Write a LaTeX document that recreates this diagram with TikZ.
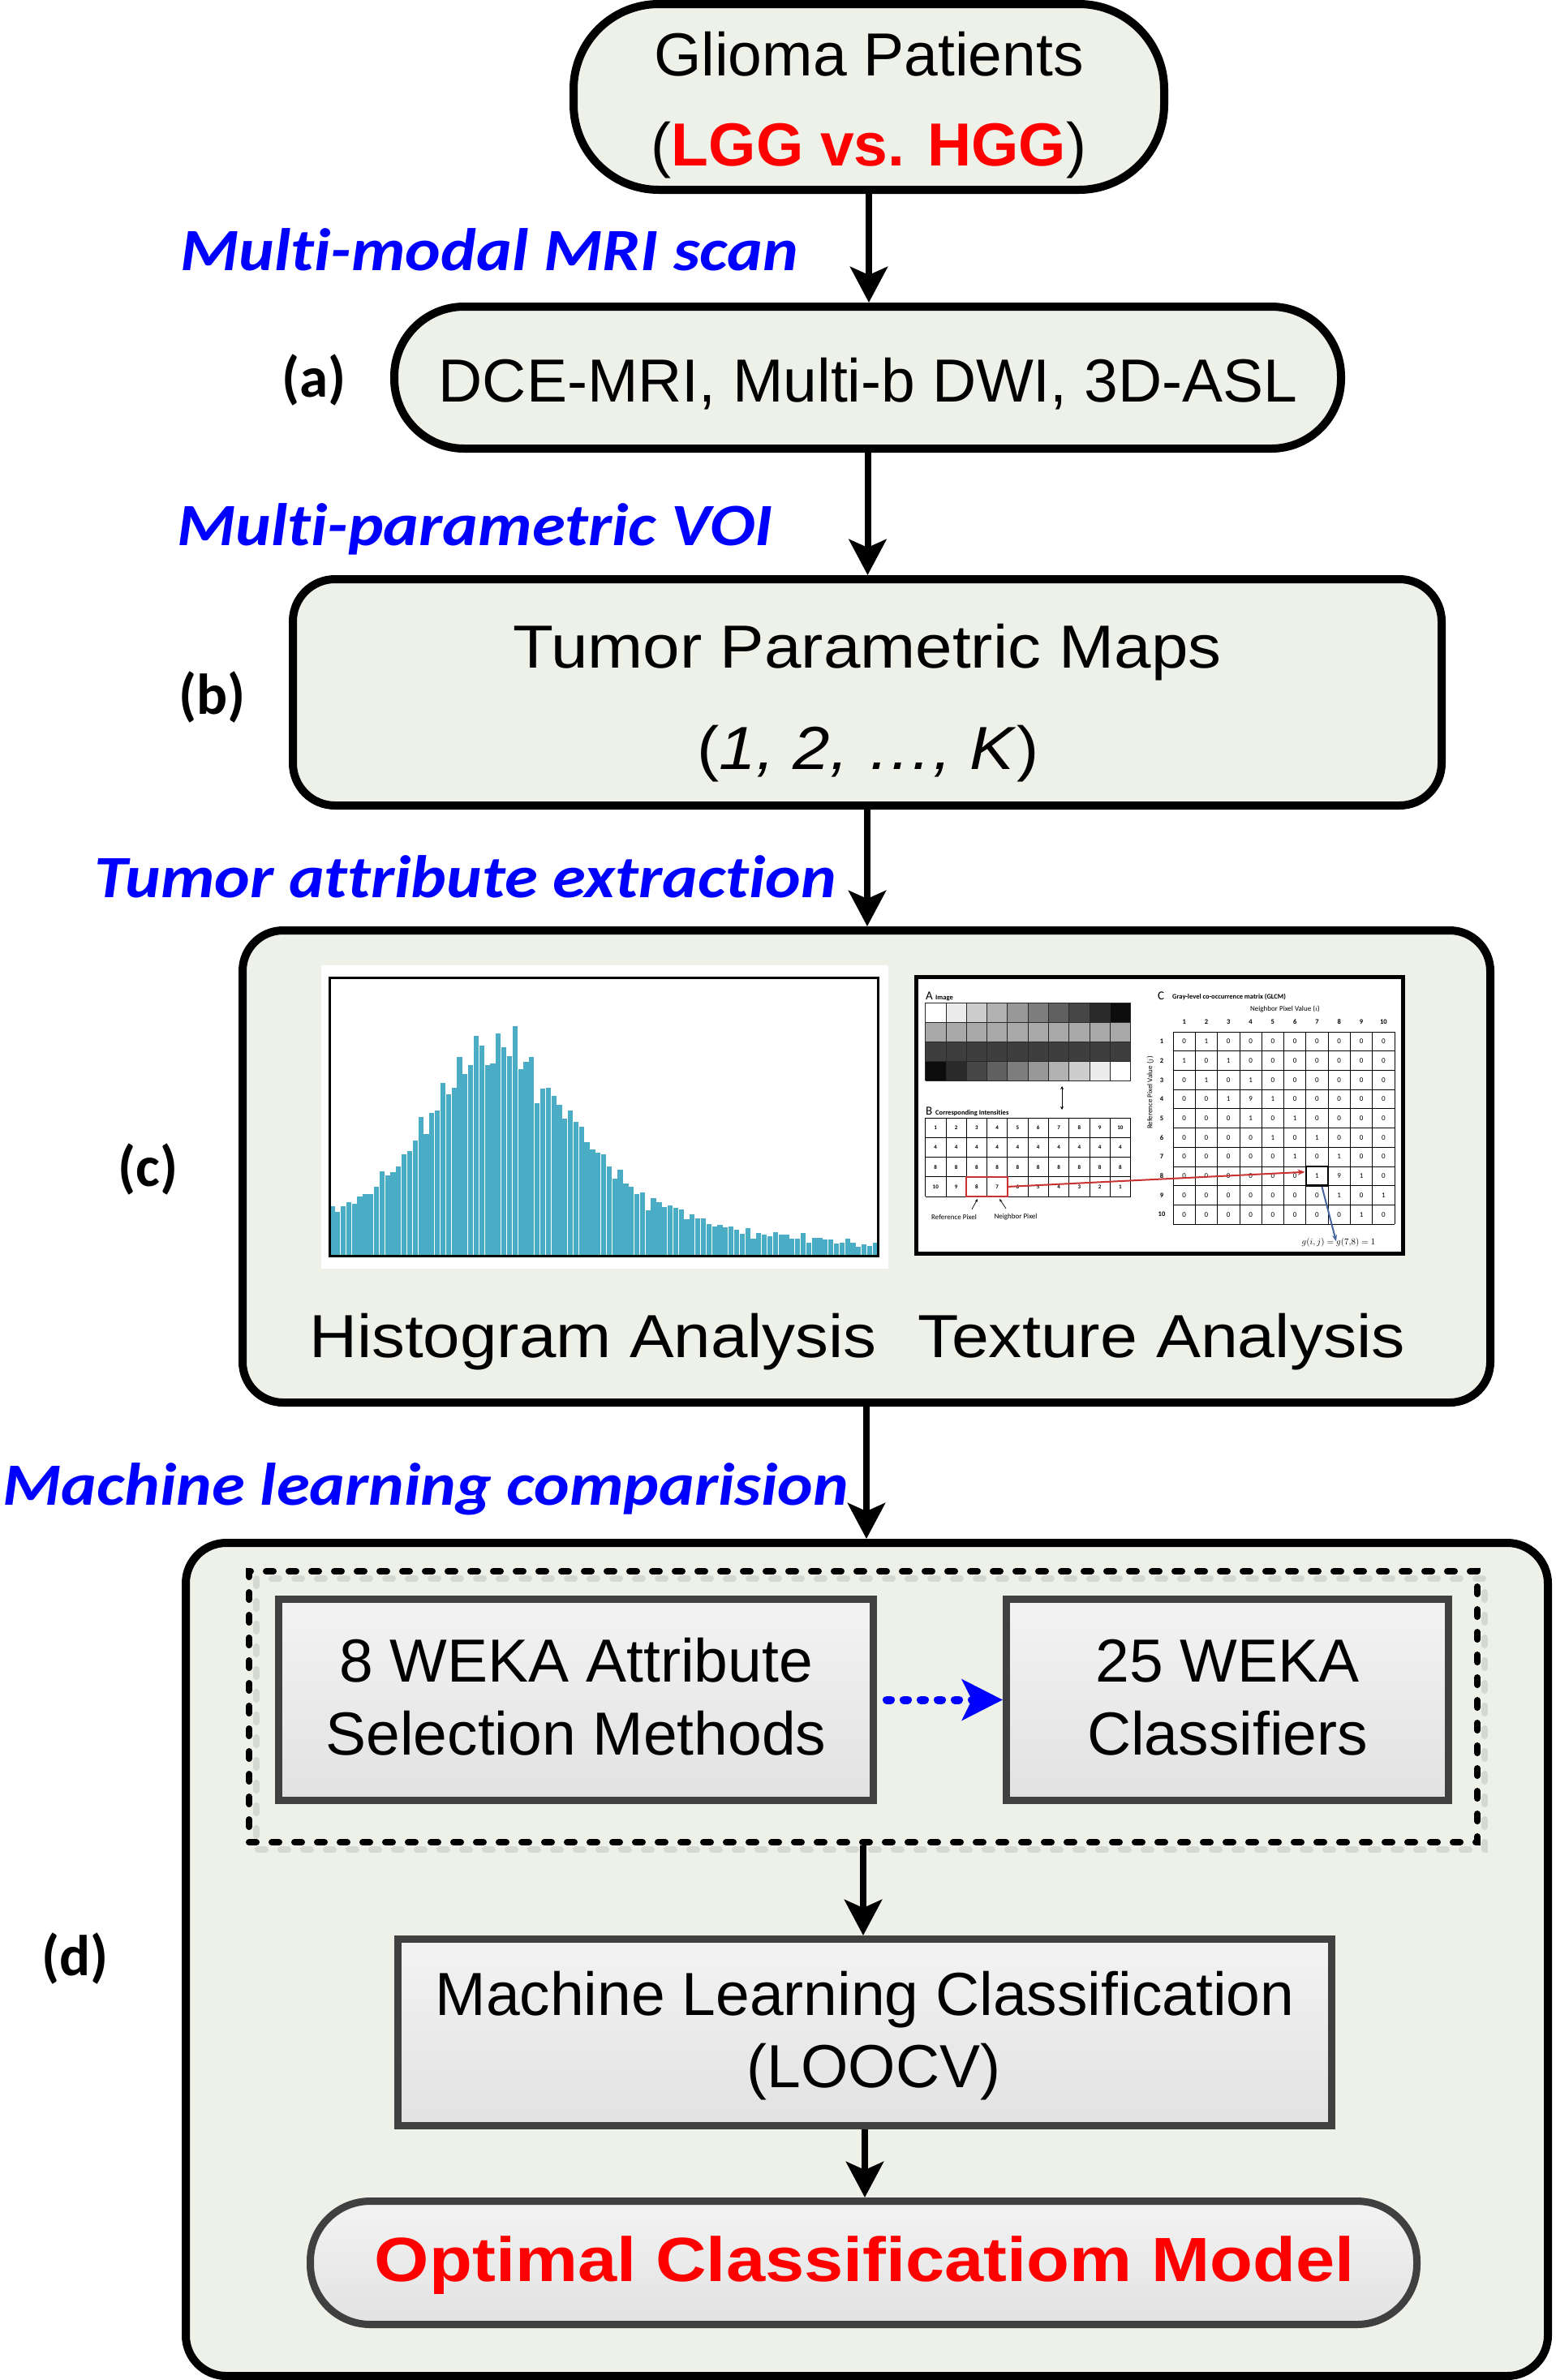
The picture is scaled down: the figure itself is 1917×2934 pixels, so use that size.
\documentclass[tikz,border=0pt]{standalone}
\usepackage{fontspec}
\usepackage{graphicx}
\setmainfont{Liberation Sans}[Ligatures=CommonOff]
\newfontfamily\labfont{Carlito}[Ligatures=CommonOff]
\usetikzlibrary{arrows.meta}

\definecolor{boxbg}{RGB}{238,241,231}
\definecolor{dgray}{RGB}{64,64,64}
\definecolor{gtop}{RGB}{243,243,243}
\definecolor{gbot}{RGB}{226,226,226}
\definecolor{histblue}{RGB}{75,172,198}
\definecolor{shadowgray}{RGB}{214,217,209}
\definecolor{arrred}{RGB}{200,50,50}
\definecolor{arrblue}{RGB}{70,100,160}
\definecolor{cellline}{RGB}{40,40,40}

\tikzset{
  mainbox/.style={draw=black, line width=10pt, fill=boxbg, inner sep=0pt},
  graybox/.style={draw=dgray, line width=9pt, top color=gtop, bottom color=gbot, inner sep=0pt},
  flow/.style={line width=8pt, -{Stealth[length=44pt,width=46pt,inset=10pt]}},
  maintxt/.style={font=\fontsize{75}{90}\selectfont, inner sep=0pt, anchor=base},
  lab/.style={font=\labfont\bfseries\itshape\fontsize{74}{80}\selectfont, text=blue, inner sep=0pt, anchor=base west},
  tagtxt/.style={font=\labfont\bfseries\fontsize{71}{72}\selectfont, inner sep=0pt, anchor=base west},
  tiny/.style={font=\labfont\fontsize{9}{10}\selectfont, inner sep=0pt},
  tinyb/.style={font=\labfont\bfseries\fontsize{8.5}{10}\selectfont, inner sep=0pt},
  thinline/.style={line width=0.8pt},
}

\begin{document}
\begin{tikzpicture}[x=1pt,y=-1pt]
\useasboundingbox[fill=white] (0,0) rectangle (1917,2934);

% ---------- main boxes ----------
\node[mainbox, rounded corners=105pt, minimum width=728pt, minimum height=229pt] (b1) at (1071,119.5) {};
\node[mainbox, rounded corners=86pt, minimum width=1167pt, minimum height=175pt] (b2) at (1069.5,465.5) {};
\node[mainbox, rounded corners=52pt, minimum width=1416pt, minimum height=279pt] (b3) at (1069,853.5) {};
\node[mainbox, rounded corners=50pt, minimum width=1538pt, minimum height=582pt] (b4) at (1068,1438) {};
\node[mainbox, rounded corners=50pt, minimum width=1679pt, minimum height=1027pt] (b5) at (1068.5,2415.5) {};

% ---------- histogram picture ----------
\node[fill=white, inner sep=0pt, minimum width=699pt, minimum height=374pt] (histimg) at (745.5,1377) {};
\foreach \v [count=\i] in {920,942,922,907,912,884,875,877,850,793,
 808,795,775,730,718,678,590,653,577,568,
 465,507,482,370,432,400,292,328,400,393,
 282,333,367,255,413,387,368,540,487,483,
 513,547,597,568,610,627,685,710,722,730,
 775,818,787,838,850,875,870,935,890,905,
 925,917,928,932,970,950,965,967,987,997,
 990,1000,995,1008,1022,1003,1040,1020,1025,1033,
 1017,1027,1025,1040,1040,1020,1055,1038,1038,1045,
 1045,1058,1057,1042,1055,1072,1063,1067,1055}
{
  \fill[histblue] ({406+(\i-1)*6.83+0.3},1548) rectangle ({406+\i*6.83-0.3},{1180+\v/3});
}
\node[draw=black, line width=3pt, inner sep=0pt, minimum width=676pt, minimum height=343pt] (histframe) at (744,1376.5) {};

% ---------- GLCM picture ----------
\node[draw=black, line width=5pt, fill=white, inner sep=0pt, minimum width=600pt, minimum height=341pt] (glcm) at (1429,1374.5) {};
% A image
\node[font=\labfont\fontsize{15}{16}\selectfont, inner sep=0pt, anchor=base west] (lA) at (1141,1232) {A};
\node[font=\labfont\bfseries\fontsize{8.5}{10}\selectfont, inner sep=0pt, anchor=base west] (lAi) at (1153,1232) {Image};
\foreach \g [count=\c] in {255,236,205,178,152,125,96,70,42,12}{
  \fill[fill={rgb,255:red,\g;green,\g;blue,\g}] ({1140.6+(\c-1)*25.3},1236) rectangle ++(25.3,24);
  \fill[fill={rgb,255:red,168;green,168;blue,168}] ({1140.6+(\c-1)*25.3},1260) rectangle ++(25.3,24);
  \fill[fill={rgb,255:red,62;green,62;blue,62}] ({1140.6+(\c-1)*25.3},1284) rectangle ++(25.3,24);
}
\foreach \g [count=\c] in {12,42,70,96,125,152,178,205,236,255}{
  \fill[fill={rgb,255:red,\g;green,\g;blue,\g}] ({1140.6+(\c-1)*25.3},1308) rectangle ++(25.3,24);
}
\foreach \k in {0,...,10}{\draw[cellline, thinline] ({1140.6+\k*25.3},1236) -- ++(0,96);}
\foreach \k in {0,...,4}{\draw[cellline, thinline] (1140.6,{1236+\k*24}) -- ++(253,0);}
\coordinate (da1) at (1309,1339);
\coordinate (da2) at (1309,1368);
\draw[line width=1pt, {Stealth[length=4pt,width=4pt]}-{Stealth[length=4pt,width=4pt]}] (da1) -- (da2);
% B intensities
\node[font=\labfont\fontsize{15}{16}\selectfont, inner sep=0pt, anchor=base west] (lB) at (1141,1374) {B};
\node[font=\labfont\bfseries\fontsize{8.5}{10}\selectfont, inner sep=0pt, anchor=base west] (lBi) at (1153,1374) {Corresponding Intensities};
\foreach \k in {0,...,10}{\draw[black, thinline] ({1140.6+\k*25.3},1378) -- ++(0,97);}
\foreach \k in {0,...,4}{\draw[black, thinline] (1140.6,{1378+\k*24.25}) -- ++(253,0);}
\foreach \rowv [count=\r] in {{1,2,3,4,5,6,7,8,9,10},{4,4,4,4,4,4,4,4,4,4},{8,8,8,8,8,8,8,8,8,8},{10,9,8,7,6,5,4,3,2,1}}{
  \foreach \val [count=\c] in \rowv {
    \node[tinyb, font=\labfont\bfseries\fontsize{7}{8}\selectfont] (bv-\r-\c) at ({1140.6+(\c-0.5)*25.3},{1378+(\r-0.5)*24.25}) {\val};
  }
}
\node[draw=arrred, line width=2pt, inner sep=0pt, minimum width=50.6pt, minimum height=24.25pt] (rb) at (1216.4,1462.9) {};
\node[tiny] (refpx) at (1176,1500) {Reference Pixel};
\node[tiny] (nbpx) at (1252,1500) {Neighbor Pixel};
\draw[line width=0.7pt, -{Stealth[length=4pt,width=3pt]}] (refpx.north) ++(22,-6) -- (1205,1478);
\draw[line width=0.7pt, -{Stealth[length=4pt,width=3pt]}] (nbpx.north) ++(-12,-6) -- (1232,1478);
% C GLCM
\node[font=\labfont\fontsize{15}{16}\selectfont, inner sep=0pt, anchor=base west] (lC) at (1427,1232) {C};
\node[font=\labfont\bfseries\fontsize{8.5}{10}\selectfont, inner sep=0pt, anchor=base west] (lCi) at (1445,1231) {Gray-level co-occurrence matrix (GLCM)};
\node[tiny] (npv) at (1584,1244) {Neighbor Pixel Value ($i$)};
\node[tiny, rotate=90] (rpv) at (1418,1347) {Reference Pixel Value ($j$)};
\foreach \c in {1,...,10}{
  \node[tinyb] (ch-\c) at ({1446+(\c-0.5)*27.3},1260) {\c};
  \node[tinyb] (rh-\c) at (1432,{1272+(\c-0.5)*23.7}) {\c};
}
\foreach \k in {0,...,10}{\draw[black, thinline] ({1446+\k*27.3},1272) -- ++(0,237);}
\foreach \k in {0,...,10}{\draw[black, thinline] (1446,{1272+\k*23.7}) -- ++(273,0);}
\foreach \rowv [count=\r] in {
 {0,1,0,0,0,0,0,0,0,0},{1,0,1,0,0,0,0,0,0,0},{0,1,0,1,0,0,0,0,0,0},{0,0,1,9,1,0,0,0,0,0},
 {0,0,0,1,0,1,0,0,0,0},{0,0,0,0,1,0,1,0,0,0},{0,0,0,0,0,1,0,1,0,0},{0,0,0,0,0,0,1,9,1,0},
 {0,0,0,0,0,0,0,1,0,1},{0,0,0,0,0,0,0,0,1,0}}{
  \foreach \val [count=\c] in \rowv {
    \node[tiny] (mv-\r-\c) at ({1446+(\c-0.5)*27.3},{1272+(\r-0.5)*23.7}) {\val};
  }
}
\node[draw=black, line width=2.5pt, inner sep=0pt, minimum width=27.3pt, minimum height=23.7pt] (hl) at (1623.45,1449.75) {};
\draw[arrred, line width=2pt, -{Stealth[length=9pt,width=7pt]}] (rb.east) -- ([yshift=5pt]hl.west);
\node[font=\fontsize{11}{12}\selectfont, inner sep=0pt] (geq) at (1650,1532) {$g(i,j)=g(7{,}8)=1$};
\draw[arrblue, line width=2pt, -{Stealth[length=8pt,width=6pt]}] ([xshift=6pt]hl.south) -- ([xshift=-3pt,yshift=-4pt]geq.north);

% ---------- machine learning part ----------
\draw[shadowgray, line width=8pt, line cap=round, dash pattern=on 9pt off 19pt] (316,1946) rectangle (1830,2280);
\node[draw=black, line width=8pt, line cap=round, dash pattern=on 9pt off 19pt, inner sep=0pt, minimum width=1514pt, minimum height=334pt] (grp) at (1064,2104) {};
\node[graybox, minimum width=733pt, minimum height=248pt] (w1) at (710,2095.5) {};
\node[graybox, minimum width=545pt, minimum height=248pt] (w2) at (1513,2095.5) {};
\node[graybox, minimum width=1151pt, minimum height=230pt] (mlc) at (1066,2505.5) {};
\node[graybox, rounded corners=74pt, minimum width=1364pt, minimum height=152pt] (opt) at (1064.5,2789.5) {};

% ---------- connectors ----------
\draw[flow] (b1.south) -- (b1.south |- b2.north);
\draw[flow] (b2.south) -- (b2.south |- b3.north);
\draw[flow] (b3.south) -- (b3.south |- b4.north);
\draw[flow] (b4.south) -- (b4.south |- b5.north);
\draw[flow] (grp.south) -- (grp.south |- mlc.north);
\draw[flow] (mlc.south) -- (mlc.south |- opt.north);
\draw[blue, line width=10pt, line cap=round, dash pattern=on 5pt off 16pt, shorten <=12pt,
      -{Stealth[length=50pt,width=50pt,inset=12pt]}] (w1.east) -- (w2.west);

% ---------- texts ----------
\node[maintxt] (t1a) at (1071,93) {Glioma Patients};
\node[maintxt] (t1b) at (1071,204) {(\textcolor{red}{\bfseries LGG vs. HGG})};
\node[maintxt] (t2) at (1070,495) {DCE-MRI, Multi-b DWI, 3D-ASL};
\node[maintxt] (t3a) at (1069,823) {\scalebox{1.09}[1]{Tumor Parametric Maps}};
\node[maintxt] (t3b) at (1070,948) {\scalebox{1.09}[1]{(\textit{1, 2, …, K})}};
\node[maintxt] (t4a) at (731,1673) {\scalebox{1.09}[1]{Histogram Analysis}};
\node[maintxt] (t4b) at (1432,1673) {\scalebox{1.1}[1]{Texture Analysis}};
\node[maintxt] (tw1a) at (710,2073) {8 WEKA Attribute};
\node[maintxt] (tw1b) at (710,2163) {Selection Methods};
\node[maintxt] (tw2a) at (1513,2073) {25 WEKA};
\node[maintxt] (tw2b) at (1513,2163) {Classifiers};
\node[maintxt] (tmla) at (1066,2484) {Machine Learning Classification};
\node[maintxt] (tmlb) at (1077,2573) {(LOOCV)};
\node[maintxt, font=\bfseries\fontsize{77}{90}\selectfont, text=red] (topt) at (1066,2812) {\scalebox{1.125}[1]{Optimal Classificatiom Model}};

\node[lab] (l1) at (222,333) {\scalebox{1.12}[1]{Multi-modal MRI scan}};
\node[lab] (l2) at (218,672) {\scalebox{1.12}[1]{Multi-parametric VOI}};
\node[lab] (l3) at (116,1106) {\scalebox{1.12}[1]{Tumor attribute extraction}};
\node[lab] (l4) at (3,1855) {\scalebox{1.12}[1]{Machine learning comparision}};

\node[tagtxt] (ta) at (347,489) {(a)};
\node[tagtxt] (tb) at (220,880) {(b)};
\node[tagtxt] (tc) at (145,1462) {(c)};
\node[tagtxt] (td) at (51,2435) {(d)};
\end{tikzpicture}
\end{document}
